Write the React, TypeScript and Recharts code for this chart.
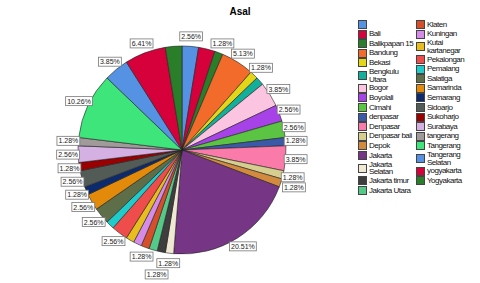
import { PieChart, Pie, Cell, Legend } from 'recharts'

// Asal (origin) of respondents, counts (n = 78)
const categories = [
  '', 'Bali', 'Balikpapan 15', 'Bandung', 'Bekasi', 'Bengkulu Utara', 'Bogor', 'Boyolali',
  'Cimahi', 'denpasar', 'Denpasar', 'Denpasar bali', 'Depok', 'Jakarta', 'Jakarta Selatan',
  'Jakarta timur', 'Jakarta Utara', 'Klaten', 'Kuningan', 'Kutai kartanegar', 'Pekalongan',
  'Pemalang', 'Salatiga', 'Samarinda', 'Semarang', 'Sidoarjo', 'Sukoharjo', 'Surabaya',
  'tangerang', 'Tangerang', 'Tangerang Selatan', 'yogyakarta', 'Yogyakarta',
]
const counts = [
  2, 2, 1, 4, 1, 1, 3, 2,
  2, 1, 3, 1, 1, 16, 1,
  1, 1, 1, 1, 1, 2,
  1, 2, 2, 1, 2, 1, 2,
  1, 8, 3, 5, 2,
]

const sliceColors = [
  '#5592e3', '#d6003a', '#2a7e2a', '#f26b2a', '#e3d616', '#12b09a', '#fbc4e0', '#a742e8',
  '#5bc443', '#3a5aa8', '#fa7baa', '#d6ce8f', '#d28a3e', '#763585', '#efe8d2',
  '#3e3e3e', '#55c988', '#d5502a', '#d58be8', '#e8bd1e', '#ef4c4c',
  '#1ecccc', '#5e6e48', '#e38a0a', '#0c2a6e', '#535b57', '#9b0000', '#d4b0e3',
  '#a09a9a', '#3ee57a', '#5592e3', '#d6003a', '#2a7e2a',
]

const W = 480
const H = 283
const CX = 182
const CY = 150
const R = 104
const FONT = '"Liberation Sans", Arial, sans-serif'

const total = counts.reduce((a, b) => a + b, 0)
const data = categories.map((name, i) => ({ name, value: counts[i] }))
const pctText = (v: number) => ((v / total) * 100).toFixed(2) + '%'

function textWidth(s: string) {
  let w = 0
  for (const ch of s) w += ch === '.' ? 1.95 : ch === '%' ? 6.2 : 3.9
  return w
}

type Box = { x: number; y: number; w: number; h: number }

// greedy label placement: push outward, drop the label if it still collides
function layoutLabels(): (Box | null)[] {
  const placed: Box[] = []
  const out: (Box | null)[] = []
  let cum = 0
  counts.forEach((c) => {
    const mid = ((cum + c / 2) / total) * 2 * Math.PI
    cum += c
    const w = textWidth(pctText(c)) + 3
    const h = 9
    let found: Box | null = null
    for (const rad of [R + 10, R + 14, R + 18, R + 23]) {
      const x = CX + rad * Math.sin(mid)
      const y = CY - rad * Math.cos(mid)
      const b = { x: x - w / 2, y: y - h / 2, w, h }
      if (b.y < 20 || b.y + h > H - 1 || b.x < 2 || b.x + w > 352) continue
      const hit = placed.some(
        (p) => b.x < p.x + p.w + 1 && b.x + b.w + 1 > p.x && b.y < p.y + p.h + 1 && b.y + b.h + 1 > p.y
      )
      if (!hit) {
        found = b
        break
      }
    }
    if (found) placed.push(found)
    out.push(found)
  })
  return out
}

const labelBoxes = layoutLabels()

const renderLabel = (props: any) => {
  const b = labelBoxes[props.index]
  if (!b) return <g />
  return (
    <g>
      <rect x={b.x} y={b.y} width={b.w} height={b.h} fill="#fff" stroke="#777" strokeWidth={0.8} />
      <text
        x={b.x + b.w / 2}
        y={b.y + b.h / 2 + 2.5}
        textAnchor="middle"
        fontSize={7}
        fontFamily={FONT}
        fill="#222"
      >
        {pctText(counts[props.index])}
      </text>
    </g>
  )
}

const LegendItem = ({ i }: { i: number }) => (
  <div style={{ display: 'flex', alignItems: 'center', marginBottom: 0.6 }}>
    <span
      style={{
        width: 7,
        height: 7,
        background: sliceColors[i],
        border: '0.8px solid #444',
        flexShrink: 0,
        marginRight: 2,
      }}
    />
    <span style={{ lineHeight: '7.6px', width: 47 }}>{categories[i] || '\u00a0'}</span>
  </div>
)

const renderLegend = () => {
  const half = Math.ceil(categories.length / 2)
  const cols = [categories.slice(0, half), categories.slice(half)]
  return (
    <div style={{ display: 'flex', fontFamily: FONT, fontSize: 8, letterSpacing: -0.5, color: '#111' }}>
      {cols.map((col, ci) => (
        <div key={ci} style={{ width: ci === 0 ? 58 : 62 }}>
          {col.map((_, j) => (
            <LegendItem key={j} i={ci * half + j} />
          ))}
        </div>
      ))}
    </div>
  )
}

export default function App() {
  return (
    <div style={{ position: 'absolute', left: 0, top: 0, width: W, height: H, background: '#fff' }}>
      <div
        style={{
          position: 'absolute',
          left: 0,
          top: 6,
          width: W,
          textAlign: 'center',
          fontFamily: FONT,
          fontWeight: 'bold',
          fontSize: 10,
        }}
      >
        Asal
      </div>
      <PieChart width={W} height={H} margin={{ top: 0, right: 0, bottom: 0, left: 0 }}>
        <Pie
          data={data}
          dataKey="value"
          nameKey="name"
          cx={CX}
          cy={CY}
          outerRadius={R}
          startAngle={90}
          endAngle={-270}
          stroke="#222"
          strokeWidth={0.6}
          label={renderLabel}
          labelLine={false}
          isAnimationActive={false}
        >
          {data.map((_, i) => (
            <Cell key={i} fill={sliceColors[i]} />
          ))}
        </Pie>
        <Legend
          content={renderLegend}
          layout="vertical"
          align="right"
          verticalAlign="top"
          wrapperStyle={{ left: 358, top: 20, width: 122, right: 'auto' }}
        />
      </PieChart>
    </div>
  )
}
